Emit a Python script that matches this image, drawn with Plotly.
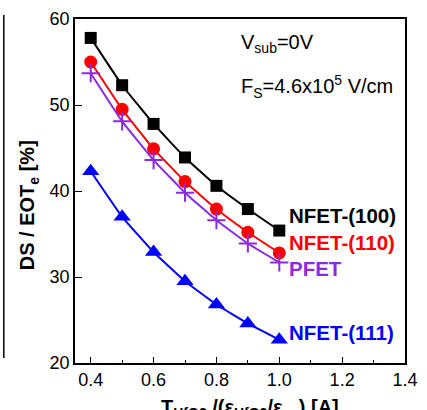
import plotly.graph_objects as go

x_vals = [0.4, 0.5, 0.6, 0.7, 0.8, 0.9, 1.0]
nfet100 = [57.8, 52.3, 47.8, 43.9, 40.6, 37.9, 35.4]
nfet110 = [55.0, 49.5, 44.9, 41.1, 37.9, 35.2, 32.8]
pfet = [53.7, 48.1, 43.6, 39.8, 36.6, 33.9, 31.7]
nfet111 = [42.3, 37.0, 32.9, 29.5, 26.8, 24.6, 22.7]

series_names = ["NFET-(100)", "NFET-(110)", "PFET", "NFET-(111)"]
series_vals = [nfet100, nfet110, pfet, nfet111]
colors = ["#000000", "#FF0000", "#8A2BE2", "#0000FF"]
symbols = ["square", "circle", "cross-thin", "triangle-up"]
sizes = [12, 13, 13, 15]
label_y = [37.2, 34.0, 31.0, 23.5]

FONT = "Liberation Sans, Arial, sans-serif"

fig = go.Figure()
for name, vals, c, s, sz in zip(series_names, series_vals, colors, symbols, sizes):
    marker = dict(symbol=s, size=sz, color=c)
    if s == "cross-thin":
        marker["line"] = dict(color=c, width=2)
    fig.add_trace(go.Scatter(
        x=x_vals, y=vals, mode="lines+markers", name=name,
        line=dict(color=c, width=2, shape="spline", smoothing=0.3),
        marker=marker, showlegend=False))

annotations = []
for name, c, ly in zip(series_names, colors, label_y):
    annotations.append(dict(x=1.025, y=ly, xref="x", yref="y", text=name,
                            showarrow=False, xanchor="left", yanchor="middle",
                            font=dict(family=FONT, size=20.5, color=c, weight="bold")))

annotations.append(dict(x=0.872, y=57.1, xref="x", yref="y",
                        text="V<sub>sub</sub>=0V", showarrow=False,
                        xanchor="left", yanchor="middle",
                        font=dict(family=FONT, size=20, color="black")))
annotations.append(dict(x=0.872, y=52.2, xref="x", yref="y",
                        text="F<sub>S</sub>=4.6x10<sup>5</sup> V/cm", showarrow=False,
                        xanchor="left", yanchor="middle",
                        font=dict(family=FONT, size=20, color="black")))
# axis titles
annotations.append(dict(x=-0.14, y=0.458, xref="paper", yref="paper", xanchor="center",
                        yanchor="middle", textangle=-90, showarrow=False,
                        text="DS / EOT<sub>e</sub> [%]",
                        font=dict(family=FONT, size=20, color="black", weight="bold")))
annotations.append(dict(x=0.53, y=-0.09, xref="paper", yref="paper", xanchor="center",
                        yanchor="top", showarrow=False,
                        text="T<sub>HfO2</sub> /(ε<sub>HfO2</sub>/ε<sub>ox</sub>) [A]",
                        font=dict(family=FONT, size=20, color="black", weight="bold")))

fig.update_layout(
    width=427, height=410,
    margin=dict(l=75, r=9, t=18, b=47),
    paper_bgcolor="white", plot_bgcolor="white",
    font=dict(family=FONT, size=18, color="black"),
    annotations=annotations,
    xaxis=dict(range=[0.35, 1.4], tickvals=[0.4, 0.6, 0.8, 1.0, 1.2, 1.4],
               ticktext=["0.4", "0.6", "0.8", "1.0", "1.2", "1.4"],
               ticklabeloverflow="allow",
               ticks="inside", ticklen=6, tickwidth=1.2, tickcolor="black",
               minor=dict(tickvals=[0.5, 0.7, 0.9, 1.1, 1.3], ticks="inside", ticklen=3,
                          tickwidth=1.2, tickcolor="black", showgrid=False),
               showline=True, linecolor="black", linewidth=1.5, mirror=True,
               showgrid=False, zeroline=False, tickfont=dict(size=18)),
    yaxis=dict(range=[20, 60], tickvals=[20, 30, 40, 50, 60],
               ticks="inside", ticklen=7, tickwidth=1.2, tickcolor="black",
               showline=True, linecolor="black", linewidth=1.5, mirror=True,
               showgrid=False, zeroline=False, tickfont=dict(size=18)),
    shapes=[dict(type="line", xref="paper", yref="paper",
                 x0=-74 / 343, x1=-74 / 343,
                 y0=(363 - 14) / 345, y1=(363 - 358) / 345,
                 line=dict(color="black", width=1.5))],
)

fig.write_html("out.html")
